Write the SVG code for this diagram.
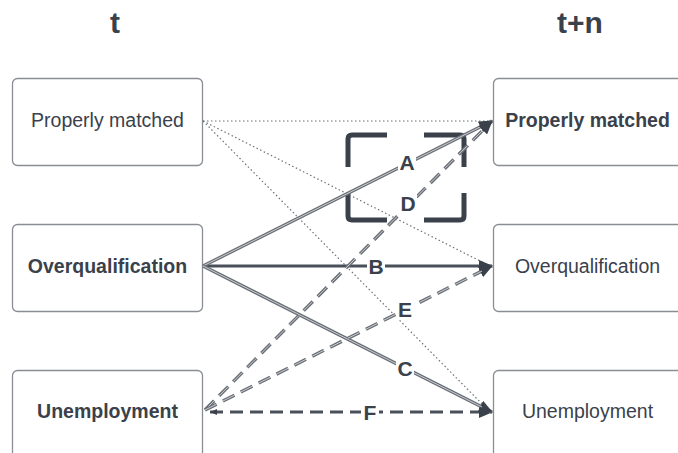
<svg xmlns="http://www.w3.org/2000/svg" width="678" height="453" viewBox="0 0 678 453">
<defs>
<style>
.box{fill:#fff;stroke:#8a8e94;stroke-width:1.3}
.t{font-family:"Liberation Sans",Arial,sans-serif;font-size:19.5px;fill:#3a414b;text-anchor:middle}
.b{font-weight:bold}
.h{font-family:"Liberation Sans",Arial,sans-serif;font-size:30px;font-weight:bold;fill:#3a414b;text-anchor:middle}
.lbl{font-family:"Liberation Sans",Arial,sans-serif;font-size:21px;font-weight:bold;fill:#3a414b;text-anchor:middle}
.dot{stroke:#6d7279;stroke-width:1.2;stroke-dasharray:1.5 2.5;fill:none}
.dblo{stroke:#6b7078;stroke-width:3.4;fill:none}
.dbli{stroke:#c9cbce;stroke-width:1;fill:none}
.dash{stroke-dasharray:13 7}
.solid{stroke:#4a5059;stroke-width:3;fill:none}
.bg{fill:#fff}
.br{fill:none;stroke:#3a414b;stroke-width:5;stroke-linejoin:round;stroke-linecap:butt}
</style>
<marker id="ah" viewBox="0 0 14 12" refX="13" refY="6" markerWidth="14" markerHeight="12" markerUnits="userSpaceOnUse" orient="auto">
<path d="M0,0 L14,6 L0,12 Z" fill="#3a414b"/>
</marker>
<marker id="as" viewBox="0 0 7 6" refX="0" refY="3" markerWidth="7" markerHeight="6" markerUnits="userSpaceOnUse" orient="auto">
<path d="M7,0 L0,3 L7,6 Z" fill="#3a414b"/>
</marker>
</defs>
<g id="titles">
<text class="h" x="115" y="33">t</text>
<text class="h" x="580" y="33">t+n</text>
</g>
<g id="left-properly-matched"><rect class="box" x="12.5" y="78.5" width="190" height="87" rx="5"/><text class="t" x="107.5" y="127">Properly matched</text></g>
<g id="left-overqualification"><rect class="box" x="12.5" y="224.5" width="190" height="87" rx="5"/><text class="t b" x="107.5" y="272.5">Overqualification</text></g>
<g id="left-unemployment"><rect class="box" x="12.5" y="370.5" width="190" height="87" rx="5"/><text class="t b" x="107.5" y="417.5">Unemployment</text></g>
<g id="right-properly-matched"><rect class="box" x="493.5" y="78.5" width="190" height="87" rx="5"/><text class="t b" x="587.5" y="127">Properly matched</text></g>
<g id="right-overqualification"><rect class="box" x="493.5" y="224.5" width="190" height="87" rx="5"/><text class="t" x="587.5" y="272.5">Overqualification</text></g>
<g id="right-unemployment"><rect class="box" x="493.5" y="370.5" width="190" height="87" rx="5"/><text class="t" x="587.5" y="417.5">Unemployment</text></g>
<g id="bracket">
<path class="br" d="M348,167 V139 Q348,135 352,135 H387"/>
<path class="br" d="M424,135 H460 Q464,135 464,139 V167"/>
<path class="br" d="M348,193 V216 Q348,220 352,220 H387"/>
<path class="br" d="M424,220 H460 Q464,220 464,216 V193"/>
</g>
<g id="connectors">
<path class="dot" d="M203,121 L490,121"/>
<path class="dot" d="M203,121 L490,266"/>
<path class="dot" d="M203,121 L490,412"/>
<path class="solid" d="M203,266 L492,266" marker-end="url(#ah)"/>
<path class="solid dash" d="M210,412 L492,412" marker-start="url(#as)" marker-end="url(#ah)"/>
<path class="dblo" d="M203,266 L492,121" marker-end="url(#ah)"/>
<path class="dbli" d="M203,266 L482,126"/>
<path class="dblo" d="M203,266 L492,412" marker-end="url(#ah)"/>
<path class="dbli" d="M203,266 L482,407"/>
<path class="dblo dash" d="M205,410 L492,121" marker-end="url(#ah)"/>
<path class="dbli dash" d="M205,410 L484,129"/>
<path class="dblo dash" d="M205,410 L492,266" marker-end="url(#ah)"/>
<path class="dbli dash" d="M205,410 L482,271"/>
</g>
<g id="labels">
<rect class="bg" x="398" y="150" width="18" height="22"/><text class="lbl" x="407" y="169.5">A</text>
<rect class="bg" x="367" y="254" width="18" height="22"/><text class="lbl" x="376" y="273.5">B</text>
<rect class="bg" x="396" y="356" width="18" height="22"/><text class="lbl" x="405" y="375.5">C</text>
<rect class="bg" x="399" y="191" width="18" height="22"/><text class="lbl" x="408" y="210.5">D</text>
<rect class="bg" x="396" y="297" width="18" height="22"/><text class="lbl" x="405" y="316.5">E</text>
<rect class="bg" x="361" y="400" width="18" height="22"/><text class="lbl" x="370" y="419.5">F</text>
</g>
</svg>
